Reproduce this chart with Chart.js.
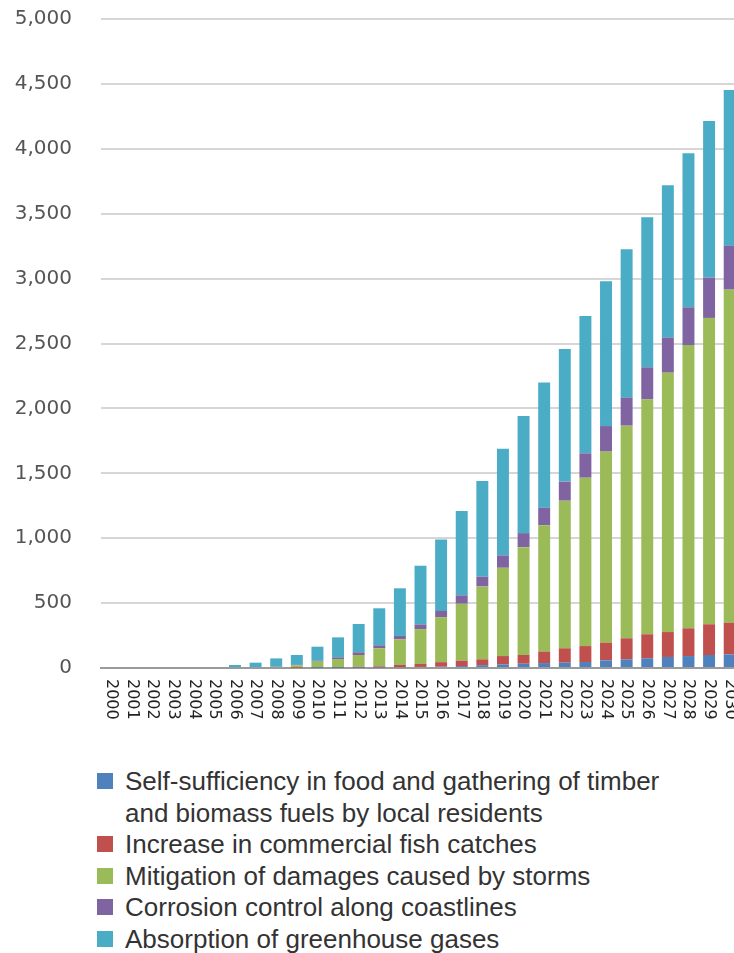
<!DOCTYPE html>
<html>
<head>
<meta charset="utf-8">
<script src="https://cdn.jsdelivr.net/npm/chart.js@4.4.1/dist/chart.umd.min.js"></script>
<style>
  html, body { margin: 0; padding: 0; background: #fff; overflow: hidden; }
  #wrap { position: relative; width: 734px; height: 953px; overflow: hidden; }
  #chart { position: absolute; left: 0; top: 0; }
  #legend {
    position: absolute; left: 125px; top: 766px; width: 560px;
    font-family: "Liberation Sans", Arial, sans-serif; font-size: 26px;
    line-height: 31.6px; color: #333;
  }
  .item { position: relative; }
  .swatch { position: absolute; left: -28px; top: 7px; width: 16px; height: 16px; }
</style>
</head>
<body>
<div id="wrap">
  <canvas id="chart" width="740" height="745"></canvas>
  <div id="legend"></div>
</div>
<script>
// chart data
const YEARS = ['2000','2001','2002','2003','2004','2005','2006','2007','2008','2009',
  '2010','2011','2012','2013','2014','2015','2016','2017','2018','2019',
  '2020','2021','2022','2023','2024','2025','2026','2027','2028','2029','2030'];

const SERIES_NAMES = [
  'Self-sufficiency in food and gathering of timber and biomass fuels by local residents',
  'Increase in commercial fish catches',
  'Mitigation of damages caused by storms',
  'Corrosion control along coastlines',
  'Absorption of greenhouse gases'
];
const SERIES_COLORS = ['#4F81BD', '#C0504D', '#9BBB59', '#8064A2', '#4BACC6'];

const selfSufficiency = [0,0,0,0,0,0,0,0,0,0, 1,2,3,4,6,8,10,15,22,28, 33,38,41,46,59,67,75,85,92,100, 105];
const fishCatches     = [0,0,0,0,0,0,0,0,0,2, 3,6,7,9,17,23,35,42,45,64, 67,88,111,123,136,162,185,192,214,237, 244];
const stormMitigation = [0,0,0,0,0,0,0,0,8,18, 45,61,90,139,198,269,347,438,561,680, 831,974,1137,1297,1472,1638,1810,1998,2182,2360, 2566];
const corrosion       = [0,0,0,0,0,0,0,0,2,4, 7,13,21,23,26,36,48,65,75,95, 108,135,147,188,197,216,246,270,291,311, 339];
const greenhouse      = [0,0,0,0,0,0,23,41,64,76, 108,154,218,285,367,452,550,650,737,823, 903,964,1022,1058,1116,1143,1156,1174,1186,1206, 1199];

const Y_MIN = 0, Y_MAX = 5000, Y_STEP = 500;

const seriesValues = [selfSufficiency, fishCatches, stormMitigation, corrosion, greenhouse];

// rotated year labels, reading top to bottom
const yearLabels = {
  id: 'yearLabels',
  afterDraw(chart) {
    const { ctx } = chart;
    const xs = chart.scales.x;
    ctx.save();
    ctx.font = '16px "DejaVu Sans", Verdana, sans-serif';
    ctx.fillStyle = '#222';
    ctx.textAlign = 'left';
    ctx.textBaseline = 'middle';
    YEARS.forEach((lab, i) => {
      const x = xs.getPixelForValue(i);
      ctx.save();
      ctx.translate(x, xs.top + 11);
      ctx.rotate(Math.PI / 2);
      ctx.fillText(lab, 0, 0);
      ctx.restore();
    });
    ctx.restore();
  }
};

new Chart(document.getElementById('chart'), {
  type: 'bar',
  data: {
    labels: YEARS,
    datasets: seriesValues.map((vals, i) => ({
      label: SERIES_NAMES[i],
      data: vals,
      backgroundColor: SERIES_COLORS[i],
      borderWidth: 0,
      barPercentage: 0.58,
      categoryPercentage: 1,
    }))
  },
  options: {
    responsive: false,
    animation: false,
    layout: { padding: { left: 0, top: 19, right: 0, bottom: 0 } },
    plugins: { legend: { display: false }, tooltip: { enabled: false } },
    scales: {
      x: {
        stacked: true,
        grid: { display: false },
        ticks: { display: false },
        border: { color: '#9a9a9a', width: 2 },
        afterFit: s => { s.height = 77; }
      },
      y: {
        stacked: true,
        min: Y_MIN, max: Y_MAX,
        ticks: {
          stepSize: Y_STEP,
          padding: 29,
          color: '#555',
          font: { family: '"DejaVu Sans", Verdana, sans-serif', size: 20 },
          callback: v => v.toLocaleString('en-US')
        },
        grid: { color: '#d6d6d6', lineWidth: 2, drawTicks: false },
        border: { display: false },
        afterFit: s => { s.width = 101; s.paddingTop = 0; s.paddingBottom = 0; }
      }
    }
  },
  plugins: [yearLabels]
});

// legend
document.getElementById('legend').innerHTML = SERIES_NAMES.map((n, i) =>
  `<div class="item"><span class="swatch" style="background:${SERIES_COLORS[i]}"></span>${n}</div>`
).join('');
</script>
</body>
</html>
